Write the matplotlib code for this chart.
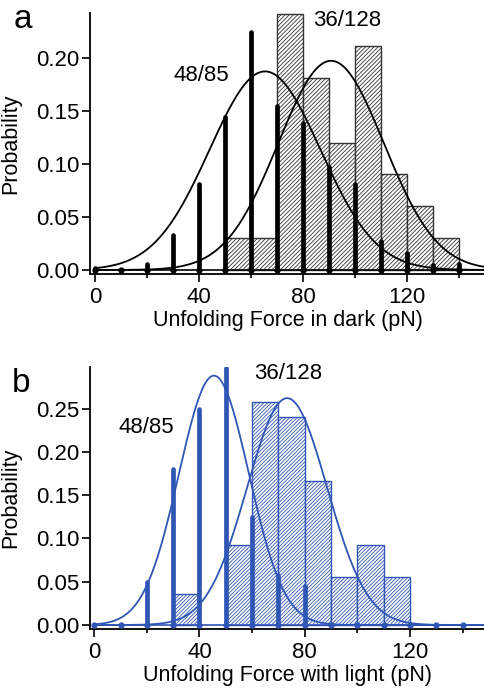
import numpy as np
import matplotlib
matplotlib.use("Agg")
import matplotlib.pyplot as plt

plt.rcParams['font.family'] = ['Liberation Sans', 'DejaVu Sans']
plt.rcParams['hatch.linewidth'] = 0.6

# stick positions (pN) shared by both panels
stick_force = np.arange(0, 150, 10)

# panel a: dark
dark_sticks = [0.002, 0.0, 0.006, 0.033, 0.081, 0.144, 0.224, 0.154,
               0.138, 0.097, 0.081, 0.027, 0.016, 0.005, 0.006]
dark_hist_left = [50, 60, 70, 80, 90, 100, 110, 120, 130]
dark_hist = [0.030, 0.030, 0.241, 0.181, 0.120, 0.211, 0.090, 0.060, 0.030]
# gaussian fits: (amplitude, mean, sigma)
dark_stick_fit = (0.187, 65.4, 21.3)
dark_hist_fit = (0.197, 90.8, 20.3)

# panel b: with light
light_sticks = [0.0, 0.0, 0.050, 0.180, 0.250, 0.297, 0.125, 0.058,
                0.045, 0.0, 0.0, 0.0, 0.0, 0.0, 0.0]
light_hist_left = [30, 50, 60, 70, 80, 90, 100, 110]
light_hist = [0.036, 0.092, 0.258, 0.240, 0.166, 0.055, 0.092, 0.055]
light_stick_fit = (0.288, 45.5, 13.3)
light_hist_fit = (0.262, 73.3, 15.2)

BIN = 10
BLUE = '#3056b5'


def gauss(x, amp, mu, sig):
    return amp * np.exp(-(x - mu) ** 2 / (2 * sig ** 2))


def draw_panel(ax, sticks, hist_left, hist, fit_s, fit_h, color, hatch_color,
               hatch, xlim, ylim, yticks, xlabel):
    ax.bar(hist_left, hist, width=BIN, align='edge', facecolor='white',
           edgecolor=hatch_color, hatch=hatch, linewidth=1.0, zorder=1)
    ax.plot([0, 200], [0, 0], color=color, lw=1.2, zorder=2)
    ax.vlines(stick_force, 0, sticks, color=color, lw=3.4,
              capstyle='round', zorder=3)
    ax.plot(stick_force, np.zeros(len(stick_force)), 'o', color=color,
            ms=3.5, zorder=3)
    xs = np.linspace(0, 155, 400)
    ax.plot(xs, gauss(xs, *fit_s), color=color, lw=1.3, zorder=4)
    ax.plot(xs, gauss(xs, *fit_h), color=color, lw=1.3, zorder=4)

    ax.set_xlim(*xlim)
    ax.set_ylim(*ylim)
    ax.set_xticks([0, 40, 80, 120])
    ax.set_xticks([20, 60, 100, 140], minor=True)
    ax.set_yticks(yticks)
    ax.set_yticklabels([f"{v:.2f}" for v in yticks])
    ax.tick_params(axis='both', which='major', labelsize=16, width=1.2,
                   length=6, direction='out')
    ax.tick_params(axis='x', which='major', pad=3)
    ax.tick_params(axis='y', which='major', pad=1.5)
    ax.tick_params(axis='x', which='minor', width=1.2, length=3)
    for side in ('top', 'right'):
        ax.spines[side].set_visible(False)
    for side in ('left', 'bottom'):
        ax.spines[side].set_linewidth(1.3)
    ax.set_xlabel(xlabel, fontsize=15.5, labelpad=2)
    ax.set_ylabel("Probability", fontsize=15.5)
    ax.yaxis.set_label_coords(-0.175, 0.5)


fig = plt.figure(figsize=(4.85, 6.9), dpi=100)
W, H = 485.0, 690.0
ax_a = fig.add_axes([90 / W, 1 - 274 / H, 395 / W, (274 - 13) / H])
ax_b = fig.add_axes([90 / W, 1 - 629 / H, 395 / W, (629 - 367) / H])

draw_panel(ax_a, dark_sticks, dark_hist_left, dark_hist, dark_stick_fit,
           dark_hist_fit, 'black', '#333333', '/' * 8, (-1.9, 150),
           (-0.0038, 0.242), [0.0, 0.05, 0.10, 0.15, 0.20],
           "Unfolding Force in dark (pN)")
draw_panel(ax_b, light_sticks, light_hist_left, light_hist, light_stick_fit,
           light_hist_fit, BLUE, BLUE, '/' * 9, (-1.6, 148.5),
           (-0.0046, 0.298), [0.0, 0.05, 0.10, 0.15, 0.20, 0.25],
           "Unfolding Force with light (pN)")

ax_a.text(41, 0.1836, "48/85", fontsize=16, ha='center', va='center', zorder=5)
ax_a.text(96.9, 0.235, "36/128", fontsize=16, ha='center', va='center', zorder=5)
ax_b.text(19.9, 0.228, "48/85", fontsize=16, ha='center', va='center', zorder=5)
ax_b.text(73.6, 0.2906, "36/128", fontsize=16, ha='center', va='center', zorder=5)

fig.text(23 / W, 1 - 28 / H, "a", fontsize=24, ha='center', va='baseline')
fig.text(21 / W, 1 - 392 / H, "b", fontsize=24, ha='center', va='baseline')

fig.savefig("out.png", dpi=100)
